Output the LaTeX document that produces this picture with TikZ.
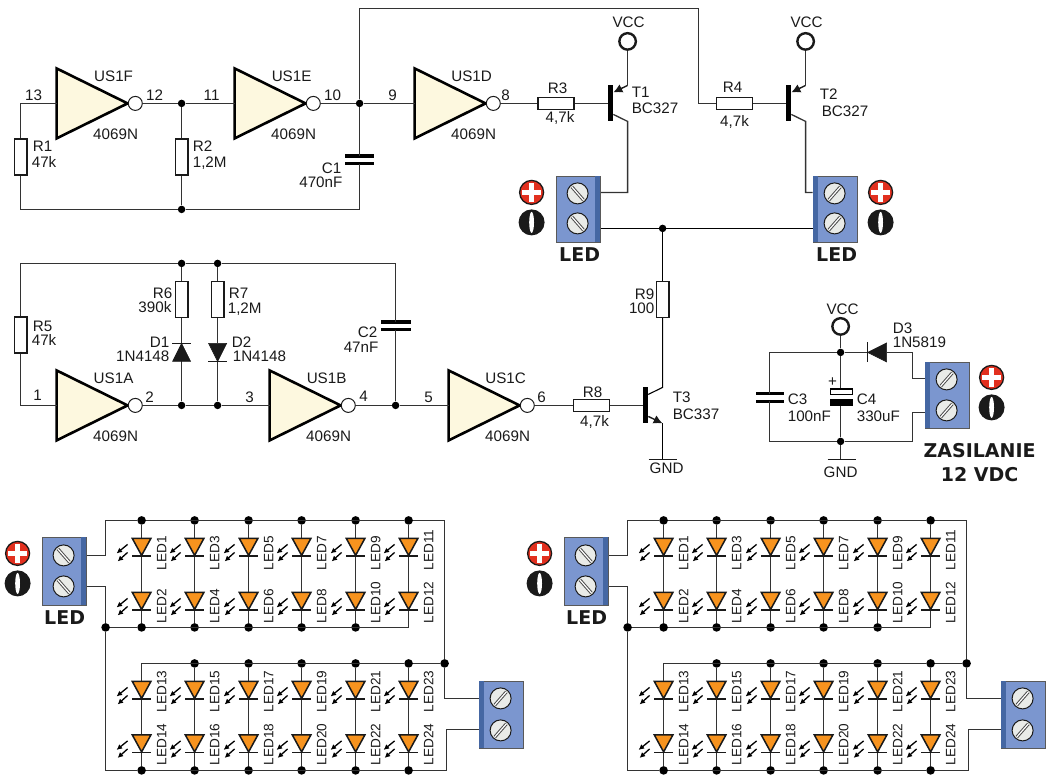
\documentclass[tikz,border=0pt]{standalone}
\usepackage{fontspec}
\setmainfont{Liberation Sans}
\newfontfamily\heavyfam{DejaVu Sans}
\usetikzlibrary{arrows.meta,calc}
\definecolor{wirec}{HTML}{333333}
\definecolor{invfill}{HTML}{FDF8DF}
\definecolor{termc}{HTML}{7B96CF}
\definecolor{termd}{HTML}{4567A3}
\definecolor{screwc}{HTML}{E9EBE8}
\definecolor{redc}{HTML}{E2301F}
\definecolor{ledc}{HTML}{F7931E}
\definecolor{inkc}{HTML}{1A1A1A}
\newcounter{lbc}
\tikzset{
 wire/.style={draw=wirec,line width=1.3pt},
 thinwire/.style={draw=black,line width=1.1pt},
 dot/.style={circle,fill=black,inner sep=0pt,minimum size=7.5pt},
 bigdot/.style={circle,fill=black,inner sep=0pt,minimum size=8.6pt},
 resv/.style={rectangle,draw=inkc,line width=1.3pt,fill=white,inner sep=0pt,minimum width=12.5pt,minimum height=36pt},
 resh/.style={rectangle,draw=inkc,line width=1.3pt,fill=white,inner sep=0pt,minimum width=36pt,minimum height=12.5pt},
 lab/.style={inner sep=0pt,text=inkc,font=\fontsize{15.2}{15.2}\selectfont,text height=10.8pt,text depth=0pt},
 ledlab/.style={inner sep=0pt,text=inkc,font=\fontsize{13.6}{13.6}\selectfont,text height=9.7pt,text depth=0pt,rotate=90,anchor=west},
 heavy/.style={inner sep=0pt,text=inkc,font=\heavyfam\bfseries\fontsize{19}{19}\selectfont,text height=13.8pt,text depth=0pt},
 vccring/.style={circle,draw=inkc,line width=2.4pt,fill=white,inner sep=0pt,minimum size=16.5pt},
 bubble/.style={circle,draw=inkc,line width=1pt,fill=white,inner sep=0pt,minimum size=14pt},
 gatebody/.style={draw=black,line width=2.6pt,fill=invfill,line join=miter},
 tbar/.style={rectangle,fill=black,inner sep=0pt,minimum width=5.5pt,minimum height=36pt},
 termbox/.style={rectangle,draw=black!65,line width=1pt,fill=termc,inner sep=0pt,anchor=north west},
 screw/.style={circle,draw=inkc,line width=1pt,fill=screwc,inner sep=0pt,minimum size=21pt},
 diodebody/.style={fill=inkc,draw=inkc,line width=.6pt},
 barline/.style={draw=inkc,line width=1.7pt},
 tiparrow/.style={draw=inkc,line width=1.4pt,-{Latex[length=9pt,width=9pt]}},
 photon/.style={draw=black,line width=1.3pt,-{Latex[length=5.5pt,width=5.5pt]}},
}
\newcommand\lab[4][center]{\stepcounter{lbc}\node[lab,anchor=#1] (lb\arabic{lbc}) at (#2,#3) {#4};}
\newcommand\inv[4]{%
 \coordinate (#1-in) at (#2,#3);
 \draw[gatebody] (#2,{#3-35}) -- (#2,{#3+35}) -- ({#2+71},#3) -- cycle;
 \node[bubble] (#1-b) at ({#2+78.7},#3) {};
 \lab{#2+57}{#3-27}{#4}
 \lab{#2+59}{#3+31}{4069N}
}
\newcommand\capv[4]{%
 \coordinate (#1-t) at (#2,{#3-3.8});
 \coordinate (#1-u) at (#2,{#3+3.8});
 \fill[black] ({#2-#4},{#3-5.5}) rectangle ({#2+#4},{#3-2.1});
 \fill[black] ({#2-#4},{#3+2.1}) rectangle ({#2+#4},{#3+5.5});
}
\newcommand\trans[3]{%
 \node[tbar] (#1-bar) at (#2,#3) {};
 \coordinate (#1-h1) at ({#2+17},{#3-18});
 \coordinate (#1-h2) at ({#2+17},{#3+18});
 \coordinate (#1-s1) at ({#2+2.7},{#3-11});
 \coordinate (#1-s2) at ({#2+2.7},{#3+11});
}
\newcommand\term[8]{%
 \node[termbox,minimum width=44pt,minimum height=#4pt] (#1) at (#2,#3) {};
 \fill[termd] ({#2+#5},#3) rectangle ({#2+#5+5},{#3+#4});
 \node[screw] (#1-a) at ({#2+22},#6) {};
 \node[screw] (#1-b) at ({#2+22},#7) {};
 \foreach \sy in {#6,#7}{
  \draw[black!70,line width=3.2pt] ({#2+22-5.8},{\sy+6.6*#8}) -- ({#2+22+5.8},{\sy-6.6*#8});
  \draw[white,line width=1.2pt] ({#2+22-5.8},{\sy+6.6*#8}) -- ({#2+22+5.8},{\sy-6.6*#8});
 }
}
\newcommand\polplus[3]{%
 \node[circle,draw=inkc,line width=1.3pt,fill=redc,inner sep=0pt,minimum size=24pt] (#1) at (#2,#3) {};
 \fill[white] ({#2-9.5},{#3-2.8}) rectangle ({#2+9.5},{#3+2.8});
 \fill[white] ({#2-2.8},{#3-9.5}) rectangle ({#2+2.8},{#3+9.5});
}
\newcommand\polzero[3]{%
 \node[circle,fill=inkc,inner sep=0pt,minimum size=26pt] (#1) at (#2,#3) {};
 \fill[white] (#2,#3) ellipse (2.4 and 10.5);
}
\newcommand\ledsym[5]{%
 \coordinate (#1-a) at (#2,#3);
 \draw[fill=ledc,draw=inkc,line width=1.5pt,line join=miter] ({#2-9.3},#3) -- ({#2+9.3},#3) -- (#2,{#3+17}) -- cycle;
 \draw[barline] ({#2-9.5},{#3+17.5}) -- ({#2+9.5},{#3+17.5});
 \draw[photon] ({#2-14},{#3+6}) -- ({#2-25},{#3+15});
 \draw[photon] ({#2-14},{#3+14}) -- ({#2-24},{#3+23});
 \stepcounter{lbc}\node[ledlab] (lb\arabic{lbc}) at ({#2+20},#5) {#4};
}
\newcommand\board[2]{%
 \begin{scope}[xshift=#2pt]
 \node[bigdot] (#1-dl) at (106,627) {};
 \node[bigdot] (#1-dr) at (445,663) {};
 \coordinate (#1-p1) at (86,555);
 \coordinate (#1-c1) at (106,555);
 \coordinate (#1-c2) at (106,520);
 \coordinate (#1-p2) at (86,586);
 \coordinate (#1-c3) at (106,586);
 \coordinate (#1-c4) at (106,770);
 \coordinate (#1-c5) at (445,520);
 \coordinate (#1-c6) at (445,698);
 \coordinate (#1-q1) at (479,698);
 \coordinate (#1-q2) at (479,729);
 \coordinate (#1-c7) at (447,729);
 \coordinate (#1-c8) at (447,770);
 \foreach \ci/\cx in {1/142,2/195,3/249,4/302,5/356,6/409}{
  \node[bigdot] (#1-t\ci) at (\cx,520) {};
  \ifnum\ci=6 \coordinate (#1-u\ci) at (\cx,627); \else \node[bigdot] (#1-u\ci) at (\cx,627) {}; \fi
  \ifnum\ci=1 \coordinate (#1-v\ci) at (\cx,663); \else \node[bigdot] (#1-v\ci) at (\cx,663) {}; \fi
  \node[bigdot] (#1-w\ci) at (\cx,770) {};
  \draw[wire] (#1-t\ci) -- (#1-u\ci);
  \draw[wire] (#1-v\ci) -- (#1-w\ci);
 }
 \draw[wire] (#1-p1) -- (#1-c1) -- (#1-c2) -- (#1-t1);
 \draw[wire] (#1-t1) -- (#1-t6) -- (#1-c5) -- (#1-dr) -- (#1-c6) -- (#1-q1);
 \draw[wire] (#1-p2) -- (#1-c3) -- (#1-dl) -- (#1-c4) -- (#1-w1);
 \draw[wire] (#1-w1) -- (#1-w6) -- (#1-c8) -- (#1-c7) -- (#1-q2);
 \draw[wire] (#1-dl) -- (#1-u1) -- (#1-u6);
 \draw[wire] (#1-v1) -- (#1-v6) -- (#1-dr);
 \foreach \cx/\na/\nb/\nc/\nd in {142/1/2/13/14,195/3/4/15/16,249/5/6/17/18,302/7/8/19/20,356/9/10/21/22,409/11/12/23/24}{
  \ledsym{#1-L\na}{\cx}{538}{LED\na}{570}
  \ledsym{#1-L\nb}{\cx}{592}{LED\nb}{623}
  \ledsym{#1-L\nc}{\cx}{681}{LED\nc}{712}
  \ledsym{#1-L\nd}{\cx}{734.5}{LED\nd}{765}
 }
 \term{#1-tl}{42}{537}{68}{39}{555}{586}{-1}
 \term{#1-tr}{479}{681}{67}{0}{698}{730}{1}
 \polplus{#1-pp}{18}{553}
 \polzero{#1-pz}{18}{583}
 \stepcounter{lbc}\node[heavy] (lb\arabic{lbc}) at (65,617) {LED};
 \end{scope}
}
\begin{document}
\begin{tikzpicture}[x=1pt,y=-1pt]
\useasboundingbox (0,0) rectangle (1049,774);
\begin{scope}[shift={(0,0)},xshift=-0.4pt,yshift=-0.4pt]

% ---------- top oscillator ----------
\node[resv] (R1) at (21,156.5) {};
\node[resv] (R2) at (182,156.5) {};
\node[dot] (d12) at (182,103) {};
\node[dot] (d10) at (360,103) {};
\node[dot] (db1) at (182,209) {};
\coordinate (c1) at (21,103);
\coordinate (c2) at (21,209);
\coordinate (c3) at (360,209);
\coordinate (c4) at (360,8);
\coordinate (c5) at (699,8);
\coordinate (c6) at (699,103);
\node[resh] (R3) at (556.5,103) {};
\node[resh] (R4) at (735,103) {};
\node[vccring] (V1) at (628,41) {};
\node[vccring] (V2) at (806,41) {};
\inv{US1F}{57}{103}{US1F}
\inv{US1E}{235}{103}{US1E}
\inv{US1D}{415}{103}{US1D}
\capv{C1}{360}{159.5}{14.5}
\trans{T1}{611}{103}
\trans{T2}{789}{103}

\draw[wire] (US1F-in) -- (c1) -- (R1.north);
\draw[wire] (R1.south) -- (c2) -- (db1) -- (c3) -- (C1-u);
\draw[wire] (C1-t) -- (d10);
\draw[wire] (US1F-b.east) -- (d12) -- (US1E-in);
\draw[wire] (d12) -- (R2.north);
\draw[wire] (R2.south) -- (db1);
\draw[wire] (US1E-b.east) -- (d10) -- (US1D-in);
\draw[wire] (d10) -- (c4) -- (c5) -- (c6) -- (R4.west);
\draw[wire] (US1D-b.east) -- (R3.west);
\draw[wire] (R3.east) -- (T1-bar.west);
\draw[wire] (R4.east) -- (T2-bar.west);
\draw[wire] (V1.south) -- (T1-h1);
\draw[wire] (V2.south) -- (T2-h1);
\draw[tiparrow] (T1-h1) -- (T1-s1);
\draw[tiparrow] (T2-h1) -- (T2-s1);
\coordinate (k1) at (628,192);
\coordinate (k2) at (806,192);
\coordinate (tlp1) at (600,192);
\coordinate (tlp2) at (600,228);
\coordinate (trp1) at (813,192);
\coordinate (trp2) at (813,228);
\node[dot] (dled) at (663,228) {};
\draw[wire] (T1-s2) -- (T1-h2) -- (k1) -- (tlp1);
\draw[wire] (T2-s2) -- (T2-h2) -- (k2) -- (trp1);
\draw[thinwire] (tlp2) -- (trp2);

\term{TL}{556}{176}{66}{39}{193}{223}{-1}
\term{TR}{813}{176}{66}{0}{193}{223}{1}
\polplus{pl1}{532}{192}
\polzero{pz1}{532}{222}
\polplus{pl2}{881}{192}
\polzero{pz2}{881}{222}
\stepcounter{lbc}\node[heavy] (lb\arabic{lbc}) at (580,254) {LED};
\stepcounter{lbc}\node[heavy] (lb\arabic{lbc}) at (837,254) {LED};

% labels, top
\lab{34}{95}{13}
\lab{155}{95}{12}
\lab{212}{95}{11}
\lab{333}{95}{10}
\lab{393}{95}{9}
\lab{506}{95}{8}
\lab[west]{33}{146}{R1}
\lab[west]{32}{162}{47k}
\lab[west]{193}{146}{R2}
\lab[west]{193}{162}{1,2M}
\lab[east]{342}{168}{C1}
\lab[east]{343}{182}{470nF}
\lab{558}{88}{R3}
\lab{560.5}{117}{4,7k}
\lab{733}{87}{R4}
\lab{735}{121}{4,7k}
\lab{629}{22}{VCC}
\lab{807}{22}{VCC}
\lab[west]{632}{92}{T1}
\lab[west]{632}{108}{BC327}
\lab[west]{820}{94}{T2}
\lab[west]{822}{111}{BC327}

% ---------- second oscillator ----------
\node[resv] (R5) at (21,334.5) {};
\node[resv] (R6) at (182,299) {};
\node[resv] (R7) at (218,299) {};
\node[dot] (d6t) at (182,263) {};
\node[dot] (d7t) at (218,263) {};
\node[dot] (d6b) at (182,405) {};
\node[dot] (d7b) at (218,405) {};
\node[dot] (d4) at (396,405) {};
\coordinate (c7) at (21,263);
\coordinate (c8) at (21,405);
\coordinate (c9) at (396,263);
\inv{US1A}{57}{405}{US1A}
\inv{US1B}{270}{405}{US1B}
\inv{US1C}{449}{405}{US1C}
\capv{C2}{396}{325.5}{15}
\node[resh] (R8) at (592,405) {};
\node[resv] (R9) at (663,299) {};
\trans{T3}{646}{405}
\coordinate (gnd1) at (663,459);
\coordinate (g1l) at (649,459);
\coordinate (g1r) at (677,459);

\draw[wire] (US1A-in) -- (c8) -- (R5.south);
\draw[wire] (R5.north) -- (c7) -- (d6t) -- (d7t) -- (c9) -- (C2-t);
\draw[wire] (C2-u) -- (d4);
\draw[wire] (d6t) -- (R6.north);
\draw[wire] (d7t) -- (R7.north);
\coordinate (D1-k) at (182,343);
\coordinate (D1-a) at (182,361);
\coordinate (D2-a) at (218,343);
\coordinate (D2-k) at (218,361);
\draw[wire] (R6.south) -- (D1-k);
\draw[wire] (D1-a) -- (d6b);
\draw[wire] (R7.south) -- (D2-a);
\draw[wire] (D2-k) -- (d7b);
\draw[diodebody] (D1-k) -- ++(-9,18) -- ++(18,0) -- cycle;
\draw[barline] ($(D1-k)+(-9.5,0)$) -- ($(D1-k)+(9.5,0)$);
\draw[diodebody] (D2-k) -- ++(-9,-18) -- ++(18,0) -- cycle;
\draw[barline] ($(D2-k)+(-9.5,0)$) -- ($(D2-k)+(9.5,0)$);
\draw[wire] (US1A-b.east) -- (d6b) -- (d7b) -- (US1B-in);
\draw[wire] (US1B-b.east) -- (d4) -- (US1C-in);
\draw[wire] (US1C-b.east) -- (R8.west);
\draw[wire] (R8.east) -- (T3-bar.west);
\draw[thinwire] (dled) -- (R9.north);
\draw[thinwire] (R9.south) -- (T3-h1) -- (T3-s1);
\draw[tiparrow] (T3-s2) -- (T3-h2);
\draw[thinwire] (T3-h2) -- (gnd1);
\draw[barline] (g1l) -- (g1r);

\lab{38}{395}{1}
\lab{150}{397}{2}
\lab{250}{397}{3}
\lab{364}{396}{4}
\lab{429}{397}{5}
\lab{542}{397}{6}
\lab[west]{33}{326}{R5}
\lab[west]{32}{340}{47k}
\lab[east]{173}{293}{R6}
\lab[east]{172}{307}{390k}
\lab[west]{229}{293}{R7}
\lab[west]{228}{308}{1,2M}
\lab[east]{170}{342}{D1}
\lab[east]{170}{356}{1N4148}
\lab[west]{232}{342}{D2}
\lab[west]{233}{356}{1N4148}
\lab[east]{378}{332}{C2}
\lab[east]{379}{347}{47nF}
\lab{593}{392}{R8}
\lab{595}{421}{4,7k}
\lab[east]{655}{294}{R9}
\lab[east]{655}{308}{100}
\lab[west]{673}{397}{T3}
\lab[west]{673}{414}{BC337}
\lab{667}{468}{GND}

% ---------- supply ----------
\node[vccring] (V3) at (841,326) {};
\node[dot] (ds1) at (841,352) {};
\node[dot] (ds2) at (841,441) {};
\coordinate (s1) at (770,352);
\coordinate (s2) at (770,441);
\coordinate (s3) at (913,441);
\coordinate (s4) at (913,412);
\coordinate (s5) at (925,412);
\coordinate (s6) at (913,352);
\coordinate (s7) at (913,378);
\coordinate (s8) at (925,378);
\coordinate (D3-k) at (868,352);
\coordinate (D3-a) at (887,352);
\coordinate (C4-t) at (841,388);
\coordinate (C4-u) at (841,406);
\coordinate (gnd2) at (841,459);
\coordinate (g2l) at (828,459);
\coordinate (g2r) at (856,459);
\capv{C3}{770}{397}{14}
\draw[wire] (V3.south) -- (ds1);
\draw[wire] (ds1) -- (s1) -- (C3-t);
\draw[wire] (C3-u) -- (s2) -- (ds2) -- (s3) -- (s4) -- (s5);
\draw[wire] (ds1) -- (D3-k);
\draw[wire] (D3-a) -- (s6) -- (s7) -- (s8);
\draw[wire] (ds1) -- (C4-t);
\draw[wire] (C4-u) -- (ds2) -- (gnd2);
\draw[draw=black,line width=1.4pt,fill=white] (831,388.5) rectangle (853,394);
\fill[black] (830.5,399) rectangle (853.5,406);
\draw[diodebody] (D3-k) -- ++(19,-9.5) -- ++(0,19) -- cycle;
\draw[barline] ($(D3-k)+(0,-10)$) -- ($(D3-k)+(0,10)$);
\draw[barline] (g2l) -- (g2r);
\term{TS}{925}{362}{66}{0}{379}{410}{1}
\polplus{pl3}{992}{377}
\polzero{pz3}{992}{407}
\lab{843}{309}{VCC}
\lab{841}{472}{GND}
\lab[west]{893}{328}{D3}
\lab[west]{893}{342}{1N5819}
\lab[west]{788}{399}{C3}
\lab[west]{788}{416}{100nF}
\lab[west]{857}{399}{C4}
\lab[west]{857}{416}{330uF}
\lab{833}{381}{+}
\stepcounter{lbc}\node[heavy] (lb\arabic{lbc}) at (980,450) {ZASILANIE};
\stepcounter{lbc}\node[heavy] (lb\arabic{lbc}) at (980,474) {12 VDC};

% ---------- LED boards ----------
\board{A}{0}
\board{B}{522}
\end{scope}
\end{tikzpicture}
\end{document}
